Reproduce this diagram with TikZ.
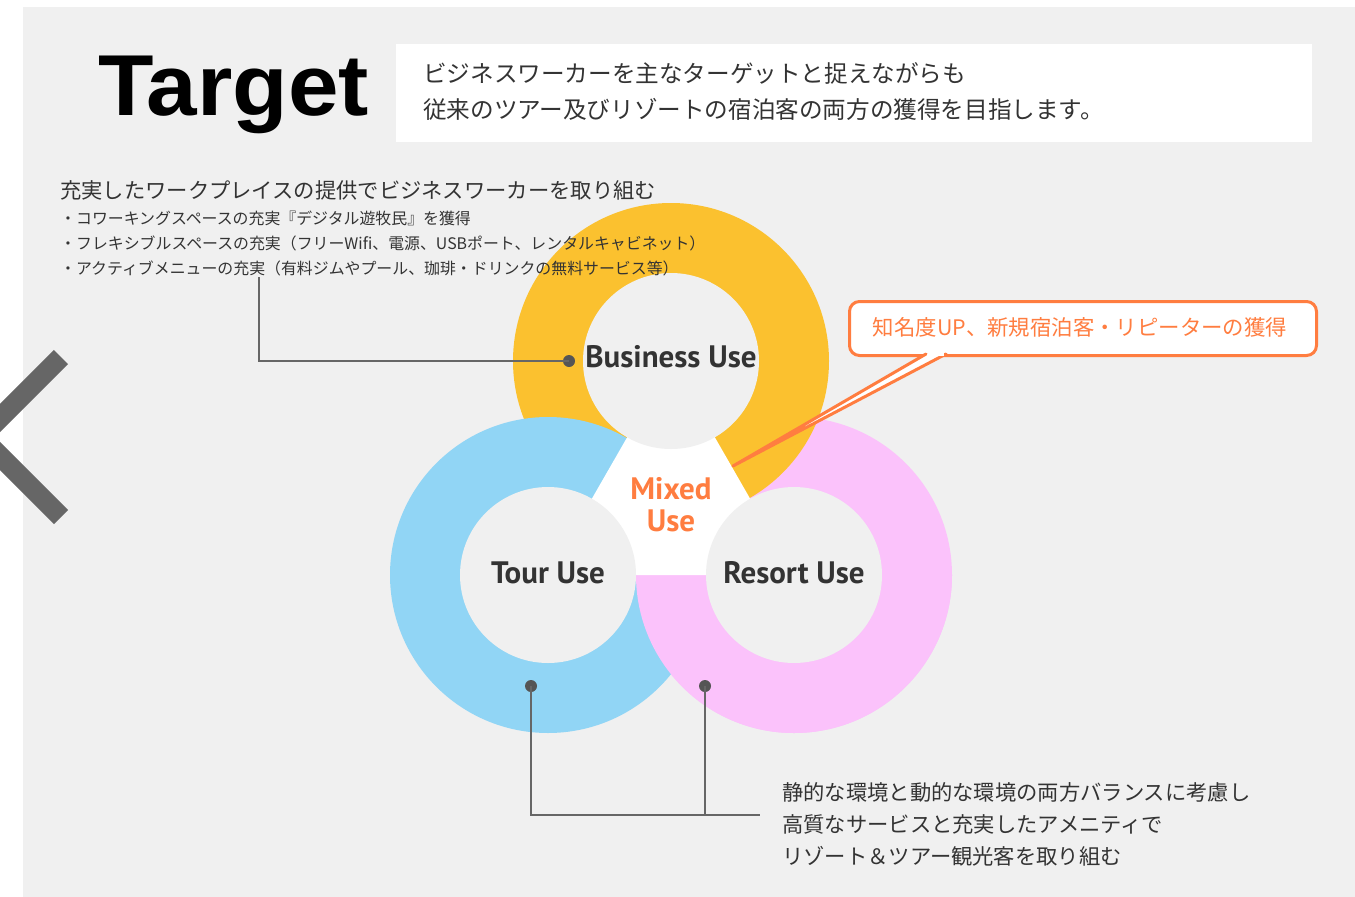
\documentclass[tikz,border=0pt]{standalone}
\usepackage{fontspec}
\usepackage{graphicx}
\newfontfamily\jp{Noto Sans CJK JP}
\newfontfamily\titlefont{Liberation Sans}[BoldFont={Liberation Sans Bold}]
\newfontfamily\labelfont{PT Sans}[BoldFont={PT Sans Bold}]
\definecolor{bg}{HTML}{F0F0F0}
\definecolor{yel}{HTML}{FBC12F}
\definecolor{sky}{HTML}{91D5F5}
\definecolor{pnk}{HTML}{FBC2FB}
\definecolor{org}{HTML}{FF7D40}
\definecolor{txt}{HTML}{333333}
\definecolor{chevc}{HTML}{666666}
\definecolor{dotc}{HTML}{555555}
\tikzset{
  ring/.style={circle, minimum size=316pt, inner sep=0pt, draw=none},
  hole/.style={circle, minimum size=176pt, inner sep=0pt, fill=bg, draw=none},
  uselabel/.style={inner sep=0pt, text=txt, font=\labelfont\bfseries\fontsize{31}{34}\selectfont},
  jptext/.style={inner sep=0pt, anchor=west, text=txt},
  dotnode/.style={circle, fill=dotc, minimum size=12pt, inner sep=0pt},
  leader/.style={draw=dotc!90, line width=1.2pt},
  callout/.style={draw=org, line width=3pt, fill=white, rounded corners=10pt},
}
\begin{document}
\begin{tikzpicture}[x=1pt,y=-1pt]
\useasboundingbox (0,0) rectangle (1355,897);
\fill[white] (0,0) rectangle (1355,897);
\fill[bg] (23,7) rectangle (1355,897);
% chevron
\draw[chevc, line width=20pt, miter limit=10] (61,357) -- (-19,437) -- (61,517);
% title
\node[anchor=base west, inner sep=0pt, font=\titlefont\bfseries\fontsize{86.5}{90}\selectfont] (title) at (98,115) {\scalebox{1.05}[1]{Target}};
% intro box
\node[fill=white, minimum width=916pt, minimum height=98pt, inner sep=0pt, anchor=north west] (introbox) at (396,44) {};
\node[jptext, font=\jp\fontsize{23.6}{28}\selectfont] (intro1) at (423,73) {ビジネスワーカーを主なターゲットと捉えながらも};
\node[jptext, font=\jp\fontsize{23.6}{28}\selectfont] (intro2) at (423,109) {従来のツアー及びリゾートの宿泊客の両方の獲得を目指します。};
% rings
\node[ring, fill=pnk] (rring) at (794,575) {};
\node[ring, fill=yel] (bring) at (671,361) {};
\node[ring, fill=sky] (tring) at (548,575) {};
\begin{scope}
  \clip (380,575) rectangle (960,740);
  \node[ring, fill=pnk] (rring2) at (794,575) {};
\end{scope}
\fill[white] (bring.center) -- (tring.center) -- (rring.center) -- cycle;
\node[hole] (bhole) at (671,361) {};
\node[hole] (thole) at (548,575) {};
\node[hole] (rhole) at (794,575) {};
% labels
\node[uselabel] (blabel) at (671,357) {Business Use};
\node[uselabel] (tlabel) at (548,573) {Tour Use};
\node[uselabel] (rlabel) at (794,573) {Resort Use};
\node[uselabel, text=org, align=center, font=\labelfont\bfseries\fontsize{31}{32}\selectfont] (mlabel) at (671,505) {Mixed\\Use};
% business text
\node[jptext, font=\jp\fontsize{21.3}{24}\selectfont] (bhead) at (60,190) {充実したワークプレイスの提供でビジネスワーカーを取り組む};
\node[jptext, font=\jp\fontsize{15.9}{18}\selectfont] (bl1) at (60,218) {・コワーキングスペースの充実『デジタル遊牧民』を獲得};
\node[jptext, font=\jp\fontsize{15.9}{18}\selectfont] (bl2) at (60,243) {・フレキシブルスペースの充実（フリーWifi、電源、USBポート、レンタルキャビネット）};
\node[jptext, font=\jp\fontsize{15.9}{18}\selectfont] (bl3) at (60,268) {・アクティブメニューの充実（有料ジムやプール、珈琲・ドリンクの無料サービス等）};
% connectors
\node[dotnode] (bdot) at (569,361) {};
\coordinate (bend) at (259,277);
\draw[leader] (bdot.center) -| (bend);
\node[dotnode] (tdot) at (531,686) {};
\node[dotnode] (rdot) at (705,686) {};
\coordinate (lend) at (760,815);
\draw[leader] (tdot.center) |- (lend);
\draw[leader] (rdot.center) -- (rdot |- lend);
% bottom text
\node[jptext, font=\jp\fontsize{21.3}{24}\selectfont] (rt1) at (782,792) {静的な環境と動的な環境の両方バランスに考慮し};
\node[jptext, font=\jp\fontsize{21.3}{24}\selectfont] (rt2) at (782,824) {高質なサービスと充実したアメニティで};
\node[jptext, font=\jp\fontsize{21.3}{24}\selectfont] (rt3) at (782,856) {リゾート＆ツアー観光客を取り組む};
% callout
\coordinate (tip) at (733,466);
\coordinate (pl) at (926,354);
\coordinate (pr) at (946,354);
\node[callout, minimum width=467pt, minimum height=54pt, anchor=north west, inner sep=0pt] (cbox) at (848,300) {};
\fill[white] (pl) -- (tip) -- (pr) -- cycle;
\draw[org, line width=3pt, line join=round, line cap=round] (pl) -- (tip) -- (pr);
\draw[white, line width=3.2pt] ([xshift=2pt]pl) -- ([xshift=-2pt]pr);
\node[inner sep=0pt, text=org, font=\jp\fontsize{21.4}{24}\selectfont] (ctext) at (1080,327) {知名度UP、新規宿泊客・リピーターの獲得};
\end{tikzpicture}
\end{document}
